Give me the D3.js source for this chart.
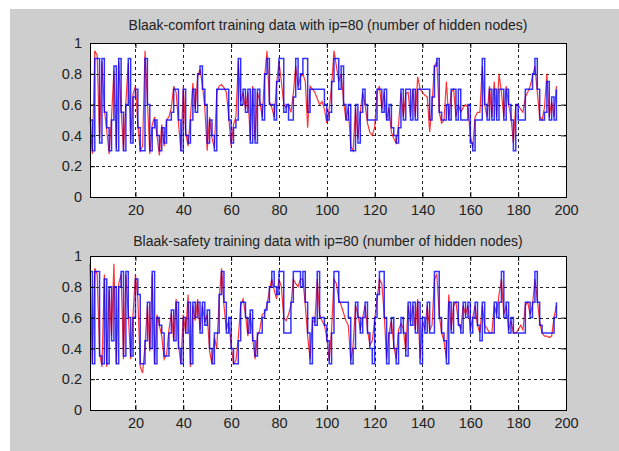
<!DOCTYPE html>
<html>
<head>
<meta charset="utf-8">
<script src="https://cdn.jsdelivr.net/npm/d3@7"></script>
<style>
  body { margin: 0; background: #fff; }
  text { font-family: "Liberation Sans Narrow", "Liberation Sans", Arial, sans-serif; }
</style>
</head>
<body>
<div id="chart"></div>
<script>
// target (blue) and network output (red), one value per training sample
var comfortTarget = [
  0.5,0.3,0.9,0.9,0.35,0.9,0.55,0.45,0.3,0.5, 0.85,0.3,0.9,0.55,0.3,0.6,0.9,0.35,0.65,0.7,
  0.45,0.3,0.3,0.9,0.6,0.3,0.45,0.5,0.4,0.3, 0.45,0.35,0.5,0.5,0.55,0.7,0.7,0.5,0.3,0.7,
  0.4,0.35,0.5,0.7,0.55,0.8,0.85,0.7,0.6,0.35, 0.5,0.4,0.3,0.7,0.7,0.7,0.7,0.7,0.5,0.35,
  0.45,0.5,0.9,0.6,0.7,0.55,0.7,0.35,0.7,0.35, 0.7,0.6,0.5,0.8,0.9,0.6,0.6,0.5,0.75,0.9,
  0.9,0.55,0.6,0.5,0.5,0.65,0.9,0.7,0.8,0.9, 0.9,0.55,0.7,0.7,0.7,0.7,0.7,0.7,0.6,0.5,
  0.55,0.75,0.9,0.9,0.7,0.85,0.6,0.5,0.6,0.3, 0.3,0.6,0.35,0.55,0.7,0.6,0.5,0.5,0.5,0.5,
  0.7,0.7,0.55,0.7,0.5,0.6,0.45,0.4,0.35,0.45, 0.7,0.5,0.7,0.7,0.5,0.7,0.5,0.7,0.7,0.7,
  0.7,0.7,0.5,0.65,0.85,0.9,0.55,0.5,0.5,0.6, 0.5,0.7,0.7,0.5,0.7,0.5,0.5,0.5,0.6,0.35,
  0.3,0.5,0.5,0.5,0.9,0.6,0.5,0.7,0.5,0.7, 0.5,0.7,0.7,0.5,0.7,0.6,0.5,0.3,0.6,0.5,
  0.5,0.5,0.7,0.7,0.7,0.8,0.9,0.7,0.5,0.5, 0.55,0.75,0.5,0.65,0.5,0.7
];
var comfortOutput = [
  0.52,0.28,0.95,0.92,0.38,0.88,0.57,0.43,0.28,0.52, 0.82,0.32,0.88,0.57,0.3,0.62,0.87,0.37,0.67,0.72,
  0.47,0.3,0.33,0.95,0.62,0.28,0.47,0.52,0.4,0.27, 0.47,0.33,0.5,0.52,0.58,0.72,0.68,0.48,0.3,0.72,
  0.42,0.33,0.52,0.74,0.57,0.78,0.83,0.73,0.58,0.3, 0.52,0.38,0.32,0.68,0.72,0.73,0.71,0.68,0.52,0.33,
  0.47,0.52,0.88,0.62,0.68,0.57,0.68,0.37,0.72,0.37, 0.68,0.62,0.52,0.78,0.95,0.62,0.58,0.52,0.73,0.88,
  0.75,0.6,0.58,0.6,0.55,0.67,0.85,0.72,0.78,0.8, 0.75,0.45,0.72,0.7,0.68,0.64,0.6,0.62,0.57,0.48,
  0.57,0.72,0.95,0.85,0.75,0.8,0.62,0.5,0.58,0.33, 0.3,0.58,0.38,0.55,0.68,0.6,0.48,0.42,0.4,0.45,
  0.68,0.72,0.57,0.68,0.5,0.58,0.42,0.38,0.35,0.47, 0.68,0.52,0.67,0.68,0.52,0.7,0.52,0.78,0.7,0.68,
  0.66,0.65,0.42,0.6,0.85,0.88,0.55,0.48,0.5,0.75, 0.5,0.68,0.7,0.52,0.6,0.55,0.58,0.6,0.58,0.4,
  0.32,0.52,0.55,0.55,0.85,0.6,0.52,0.72,0.52,0.75, 0.52,0.8,0.68,0.52,0.72,0.6,0.52,0.35,0.6,0.6,
  0.57,0.55,0.65,0.68,0.72,0.78,0.85,0.68,0.52,0.5, 0.58,0.8,0.52,0.62,0.52,0.72
];
var safetyTarget = [
  0.9,0.3,0.9,0.9,0.35,0.3,0.85,0.3,0.8,0.45, 0.8,0.3,0.8,0.9,0.35,0.9,0.6,0.35,0.6,0.85,
  0.75,0.3,0.3,0.45,0.7,0.4,0.9,0.3,0.6,0.55, 0.5,0.35,0.35,0.5,0.65,0.45,0.7,0.4,0.3,0.6,
  0.5,0.7,0.3,0.7,0.6,0.7,0.5,0.7,0.55,0.65, 0.4,0.3,0.5,0.5,0.75,0.9,0.7,0.5,0.6,0.4,
  0.3,0.3,0.45,0.7,0.7,0.6,0.5,0.65,0.45,0.35, 0.5,0.5,0.6,0.65,0.7,0.8,0.9,0.8,0.75,0.9,
  0.9,0.5,0.5,0.5,0.7,0.9,0.9,0.9,0.8,0.9, 0.7,0.5,0.3,0.6,0.55,0.9,0.6,0.6,0.55,0.45,
  0.3,0.5,0.9,0.9,0.7,0.7,0.7,0.7,0.6,0.3, 0.4,0.7,0.6,0.5,0.6,0.7,0.5,0.4,0.3,0.6,
  0.75,0.9,0.9,0.6,0.3,0.5,0.6,0.4,0.3,0.5, 0.6,0.5,0.35,0.7,0.55,0.7,0.5,0.7,0.3,0.6,
  0.5,0.7,0.5,0.5,0.9,0.9,0.6,0.5,0.45,0.3, 0.7,0.5,0.7,0.7,0.55,0.5,0.7,0.6,0.7,0.5,
  0.6,0.7,0.55,0.45,0.7,0.5,0.5,0.5,0.5,0.7, 0.6,0.7,0.9,0.6,0.7,0.5,0.6,0.5,0.5,0.5,
  0.5,0.5,0.7,0.7,0.6,0.7,0.9,0.7,0.55,0.5, 0.5,0.5,0.5,0.5,0.6,0.7
];
var safetyOutput = [
  0.95,0.3,0.92,0.88,0.37,0.28,0.88,0.28,0.78,0.48, 0.95,0.3,0.82,0.88,0.33,0.88,0.62,0.33,0.62,0.88,
  0.72,0.28,0.24,0.42,0.68,0.38,0.88,0.3,0.62,0.55, 0.48,0.33,0.36,0.52,0.63,0.45,0.72,0.42,0.3,0.62,
  0.5,0.75,0.28,0.68,0.58,0.72,0.52,0.68,0.57,0.62, 0.38,0.3,0.47,0.4,0.72,0.92,0.68,0.52,0.58,0.42,
  0.3,0.32,0.47,0.68,0.72,0.62,0.48,0.63,0.47,0.33, 0.48,0.52,0.62,0.63,0.68,0.78,0.85,0.78,0.72,0.85,
  0.8,0.6,0.58,0.62,0.68,0.85,0.82,0.8,0.85,0.85, 0.68,0.48,0.33,0.58,0.57,0.85,0.62,0.58,0.55,0.47,
  0.32,0.52,0.85,0.82,0.72,0.68,0.63,0.58,0.55,0.32, 0.42,0.68,0.62,0.52,0.6,0.68,0.52,0.42,0.45,0.58,
  0.72,0.85,0.82,0.62,0.33,0.5,0.58,0.42,0.33,0.52, 0.56,0.53,0.38,0.68,0.57,0.68,0.52,0.72,0.33,0.58,
  0.52,0.68,0.52,0.55,0.85,0.88,0.62,0.5,0.45,0.33, 0.75,0.52,0.68,0.7,0.57,0.52,0.68,0.62,0.68,0.52,
  0.6,0.68,0.55,0.5,0.68,0.55,0.53,0.5,0.5,0.68, 0.62,0.75,0.85,0.62,0.68,0.52,0.58,0.5,0.5,0.52,
  0.55,0.52,0.68,0.7,0.62,0.68,0.85,0.72,0.57,0.5, 0.48,0.48,0.47,0.48,0.6,0.68
];

var xTicks = [20,40,60,80,100,120,140,160,180,200];
var yTicks = [0,0.2,0.4,0.6,0.8,1];
var titles = ["Blaak-comfort training data with ip=80 (number of hidden nodes)",
              "Blaak-safety training data with ip=80 (number of hidden nodes)"];

var W = 619, H = 451;
var svg = d3.select("#chart").append("svg").attr("width", W).attr("height", H);

svg.append("rect").attr("x", 10).attr("y", 9).attr("width", W - 10).attr("height", H - 9)
   .attr("fill", "#cecece");

var x = d3.scaleLinear().domain([1, 200]).range([90, 566]);

function panel(top, bottom, title, titleY, target, output) {
  var y = d3.scaleLinear().domain([0, 1]).range([bottom, top]);
  var g = svg.append("g");

  g.append("rect").attr("x", x.range()[0]).attr("y", top)
   .attr("width", x.range()[1] - x.range()[0]).attr("height", bottom - top)
   .attr("fill", "#fff");

  // dotted grid
  g.selectAll(".gx").data(xTicks.slice(0, -1)).enter().append("line")
   .attr("x1", function(d){ return Math.round(x(d)) + 0.5; })
   .attr("x2", function(d){ return Math.round(x(d)) + 0.5; })
   .attr("y1", top).attr("y2", bottom)
   .attr("stroke", "#222").attr("stroke-width", 1).attr("stroke-dasharray", "3,3");
  g.selectAll(".gy").data(yTicks.slice(1, -1)).enter().append("line")
   .attr("y1", function(d){ return Math.round(y(d)) + 0.5; })
   .attr("y2", function(d){ return Math.round(y(d)) + 0.5; })
   .attr("x1", x.range()[0]).attr("x2", x.range()[1])
   .attr("stroke", "#222").attr("stroke-width", 1).attr("stroke-dasharray", "3,3");

  var line = function(arr, curve) {
    return d3.line()
      .curve(curve)
      .x(function(d, i){ return x(i + 1); })
      .y(function(d){ return y(d); })(arr);
  };

  g.append("path").attr("d", line(output, d3.curveLinear)).attr("fill", "none")
   .attr("stroke", "#ff0000").attr("stroke-width", 1.2).attr("stroke-opacity", 0.8);
  g.append("path").attr("d", line(target, d3.curveStepAfter)).attr("fill", "none")
   .attr("stroke", "#0000ff").attr("stroke-width", 1.5).attr("stroke-opacity", 0.8);

  // ticks inside the box, both sides
  var xa = d3.axisBottom(x).tickValues(xTicks).tickSize(-5).tickPadding(8).tickFormat(d3.format("d"));
  var xt = d3.axisTop(x).tickValues(xTicks).tickSize(-5).tickFormat("");
  var ya = d3.axisLeft(y).tickValues(yTicks).tickSize(-5).tickPadding(8).tickFormat(d3.format("~g"));
  var yr = d3.axisRight(y).tickValues(yTicks).tickSize(-5).tickFormat("");

  g.append("g").attr("transform", "translate(0," + bottom + ")").call(xa);
  g.append("g").attr("transform", "translate(0," + top + ")").call(xt);
  g.append("g").attr("transform", "translate(" + x.range()[0] + ",0)").call(ya);
  g.append("g").attr("transform", "translate(" + x.range()[1] + ",0)").call(yr);

  g.selectAll(".domain").attr("stroke", "#000");
  g.selectAll(".tick line").attr("stroke", "#000");
  g.selectAll(".tick text").attr("font-size", 14.5)
   .attr("font-family", "'Liberation Sans Narrow', 'Liberation Sans', sans-serif").attr("fill", "#222");

  g.append("rect").attr("x", x.range()[0] + 0.5).attr("y", top + 0.5)
   .attr("width", x.range()[1] - x.range()[0]).attr("height", bottom - top)
   .attr("fill", "none").attr("stroke", "#000");

  g.append("text").attr("x", (x.range()[0] + x.range()[1]) / 2).attr("y", titleY)
   .attr("text-anchor", "middle").attr("font-size", 14).attr("fill", "#222").text(title);
}

panel(43, 197, titles[0], 30, comfortTarget, comfortOutput);
panel(256, 410, titles[1], 246, safetyTarget, safetyOutput);
</script>
</body>
</html>
